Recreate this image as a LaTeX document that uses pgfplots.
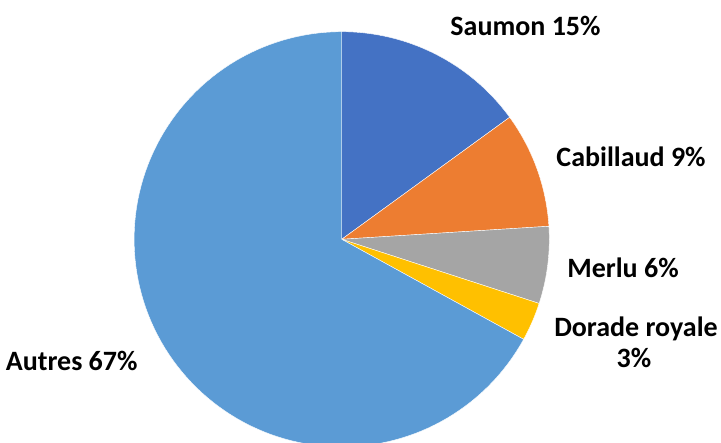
\documentclass[border=0pt]{standalone}
\usepackage{pgfplots}
\pgfplotsset{compat=1.18}
\usepackage{fontspec}
\setmainfont{Carlito}
\definecolor{cSaumon}{HTML}{4472C4}
\definecolor{cCabillaud}{HTML}{ED7D31}
\definecolor{cMerlu}{HTML}{A5A5A5}
\definecolor{cDorade}{HTML}{FFC000}
\definecolor{cAutres}{HTML}{5B9BD5}
\tikzset{pielabel/.style={font=\fontsize{28bp}{31bp}\selectfont\bfseries, anchor=base, inner sep=0pt, text=black}}
% shares (%)
\def\vSaumon{15}
\def\vCabillaud{9}
\def\vMerlu{6}
\def\vDorade{3}
\def\vAutres{67}
\def\cx{341.7}
\def\cy{203.7}
\def\rr{207.6}
\begin{document}
\begin{tikzpicture}
\begin{axis}[
  x=1bp, y=1bp,
  xmin=0, xmax=721, ymin=0, ymax=443,
  hide axis,
  clip=true,
  every axis plot/.append style={draw=white, line width=0.4pt, samples=120},
]
\pgfmathsetmacro{\aA}{90}
\pgfmathsetmacro{\aB}{\aA-3.6*\vSaumon}
\pgfmathsetmacro{\aC}{\aB-3.6*\vCabillaud}
\pgfmathsetmacro{\aD}{\aC-3.6*\vMerlu}
\pgfmathsetmacro{\aE}{\aD-3.6*\vDorade}
\pgfmathsetmacro{\aF}{\aE-3.6*\vAutres}
\addplot[fill=cSaumon, domain=\aB:\aA] ({\cx+\rr*cos(x)},{\cy+\rr*sin(x)}) -- (axis cs:\cx,\cy) -- cycle;
\addplot[fill=cCabillaud, domain=\aC:\aB] ({\cx+\rr*cos(x)},{\cy+\rr*sin(x)}) -- (axis cs:\cx,\cy) -- cycle;
\addplot[fill=cMerlu, domain=\aD:\aC] ({\cx+\rr*cos(x)},{\cy+\rr*sin(x)}) -- (axis cs:\cx,\cy) -- cycle;
\addplot[fill=cDorade, domain=\aE:\aD] ({\cx+\rr*cos(x)},{\cy+\rr*sin(x)}) -- (axis cs:\cx,\cy) -- cycle;
\addplot[fill=cAutres, domain=\aF:\aE] ({\cx+\rr*cos(x)},{\cy+\rr*sin(x)}) -- (axis cs:\cx,\cy) -- cycle;
\path (axis cs:0,0) rectangle (axis cs:721,443);
\node[pielabel] at (axis cs:525.5,407) {Saumon 15\%};
\node[pielabel] at (axis cs:631,276) {Cabillaud 9\%};
\node[pielabel] at (axis cs:623,165) {Merlu 6\%};
\node[pielabel] at (axis cs:636,106) {Dorade royale};
\node[pielabel] at (axis cs:634,75) {3\%};
\node[pielabel] at (axis cs:71.7,72.3) {Autres 67\%};
\end{axis}
\end{tikzpicture}
\end{document}
